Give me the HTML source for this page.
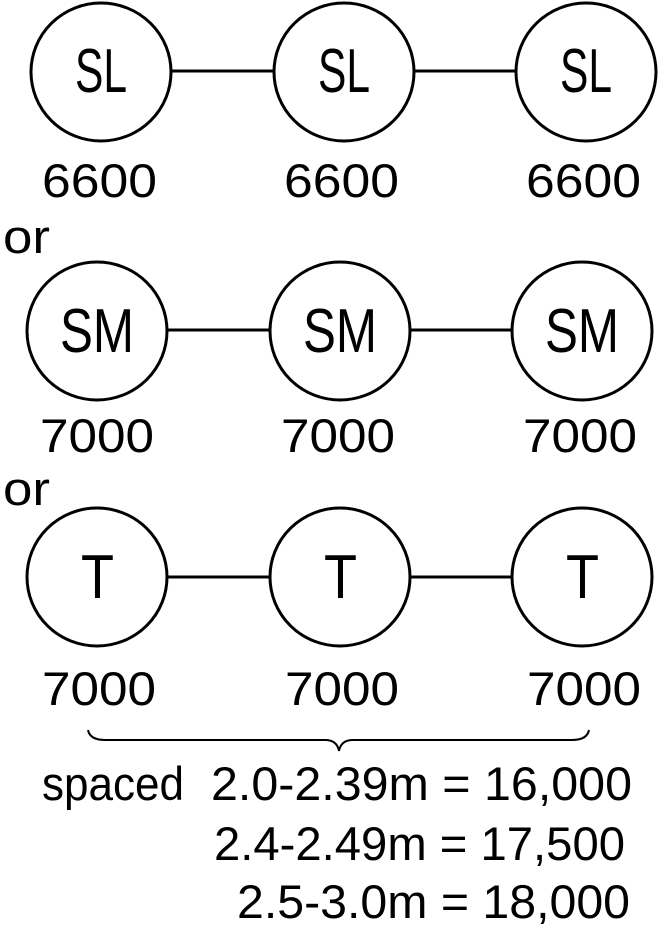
<!DOCTYPE html>
<html><head><meta charset="utf-8"><style>html,body{margin:0;padding:0;background:#fff}svg{display:block}</style></head>
<body>
<svg width="661" height="952" viewBox="0 0 661 952" xmlns="http://www.w3.org/2000/svg" font-family="Liberation Sans, sans-serif" fill="#000">
<g stroke="#000" stroke-width="3" fill="none">
<line x1="172" y1="71" x2="273" y2="71"/><line x1="415" y1="71" x2="515" y2="71"/>
<ellipse cx="101" cy="72" rx="70" ry="69"/><ellipse cx="344" cy="72" rx="70" ry="69"/><ellipse cx="586" cy="72" rx="70" ry="69"/>
<line x1="168" y1="330" x2="270" y2="330"/><line x1="410" y1="330" x2="512" y2="330"/>
<ellipse cx="97" cy="331" rx="70" ry="69"/><ellipse cx="340" cy="331" rx="70" ry="69"/><ellipse cx="582" cy="331" rx="70" ry="69"/>
<line x1="168" y1="577" x2="270" y2="577"/><line x1="410" y1="577" x2="512" y2="577"/>
<ellipse cx="97" cy="577" rx="70" ry="69"/><ellipse cx="340" cy="577" rx="70" ry="69"/><ellipse cx="582" cy="577" rx="70" ry="69"/>
<path d="M88 730 Q90 740 105 740 L325 740 Q337 740 339 751 Q341 740 353 740 L572 740 Q587 740 589 730" stroke-width="2"/>
</g>
<g font-size="62">
<text x="75" y="92" textLength="52" lengthAdjust="spacingAndGlyphs">SL</text>
<text x="318" y="92" textLength="52" lengthAdjust="spacingAndGlyphs">SL</text>
<text x="560" y="92" textLength="52" lengthAdjust="spacingAndGlyphs">SL</text>
<text x="60" y="352" textLength="74" lengthAdjust="spacingAndGlyphs">SM</text>
<text x="303" y="352" textLength="74" lengthAdjust="spacingAndGlyphs">SM</text>
<text x="545" y="352" textLength="74" lengthAdjust="spacingAndGlyphs">SM</text>
<text x="81" y="598" textLength="33" lengthAdjust="spacingAndGlyphs">T</text>
<text x="324" y="598" textLength="33" lengthAdjust="spacingAndGlyphs">T</text>
<text x="566" y="598" textLength="33" lengthAdjust="spacingAndGlyphs">T</text>
</g>
<g font-size="47">
<text x="42" y="197" textLength="115" lengthAdjust="spacingAndGlyphs">6600</text>
<text x="284" y="197" textLength="115" lengthAdjust="spacingAndGlyphs">6600</text>
<text x="526" y="197" textLength="115" lengthAdjust="spacingAndGlyphs">6600</text>
<text x="3" y="253" textLength="47" lengthAdjust="spacingAndGlyphs">or</text>
<text x="40" y="452" textLength="114" lengthAdjust="spacingAndGlyphs">7000</text>
<text x="281" y="452" textLength="114" lengthAdjust="spacingAndGlyphs">7000</text>
<text x="523" y="452" textLength="114" lengthAdjust="spacingAndGlyphs">7000</text>
<text x="3" y="505" textLength="47" lengthAdjust="spacingAndGlyphs">or</text>
<text x="42" y="705" textLength="114" lengthAdjust="spacingAndGlyphs">7000</text>
<text x="285" y="705" textLength="114" lengthAdjust="spacingAndGlyphs">7000</text>
<text x="527" y="705" textLength="114" lengthAdjust="spacingAndGlyphs">7000</text>
<text x="42" y="800" textLength="142" lengthAdjust="spacingAndGlyphs">spaced</text>
<text x="211" y="800" textLength="421" lengthAdjust="spacingAndGlyphs">2.0-2.39m = 16,000</text>
<text x="214" y="860" textLength="411" lengthAdjust="spacingAndGlyphs">2.4-2.49m = 17,500</text>
<text x="237" y="918" textLength="393" lengthAdjust="spacingAndGlyphs">2.5-3.0m = 18,000</text>
</g>
</svg>
</body></html>
